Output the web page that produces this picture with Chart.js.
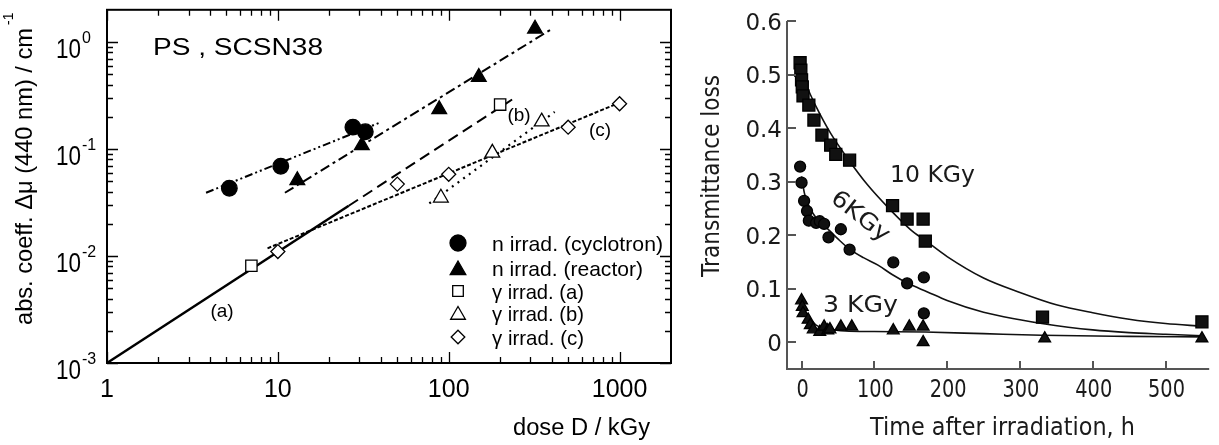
<!DOCTYPE html>
<html>
<head>
<meta charset="utf-8">
<script src="https://cdn.jsdelivr.net/npm/chart.js@4.4.1/dist/chart.umd.min.js"></script>
<style>
  html, body { margin: 0; padding: 0; background: #fff; width: 1219px; height: 445px; overflow: hidden; }
  canvas { position: absolute; top: 0; }
  #left { left: 0; }
  #right { left: 700px; }
</style>
</head>
<body>
<canvas id="left" width="700" height="445"></canvas>
<canvas id="right" width="519" height="445"></canvas>
<script>
// ---- left panel: abs. coefficient vs dose (log-log) ----
const cycDose = [5.2, 10.4, 27.5, 32.5];
const cycMu = [0.043, 0.069, 0.16, 0.145];
const reaDose = [13, 31, 88, 150, 320];
const reaMu = [0.051, 0.108, 0.235, 0.47, 1.33];
const gamADose = [7, 200];
const gamAMu = [0.0081, 0.26];
const gamBDose = [90, 180, 350];
const gamBMu = [0.035, 0.092, 0.18];
const gamCDose = [10, 50, 100, 500, 1000];
const gamCMu = [0.011, 0.047, 0.058, 0.16, 0.265];

// fit lines, end points
const fitCycDose = [3.8, 40];
const fitCycMu = [0.039, 0.178];
const fitReaDose = [11, 400];
const fitReaMu = [0.039, 1.32];
const fitASolidDose = [1, 26];
const fitASolidMu = [0.001, 0.0295];
const fitADashDose = [26, 235];
const fitADashMu = [0.0295, 0.29];
const fitBDose = [77, 417];
const fitBMu = [0.031, 0.222];
const fitCDose = [8.7, 1050];
const fitCMu = [0.0118, 0.28];

const xTickVals = [1, 10, 100, 1000];
const xTickLabels = ['1', '10', '100', '1000'];
const yTickVals = [1, 0.1, 0.01, 0.001];
const yTickExps = ['0', '-1', '-2', '-3'];
const legendLabels = ['n irrad. (cyclotron)', 'n irrad. (reactor)', 'γ irrad. (a)', 'γ irrad. (b)', 'γ irrad. (c)'];

// ---- right panel: transmittance loss vs time ----
const t10 = [-2, -1, 0, 1, 2, 10, 17, 28, 40, 47, 66, 125, 145, 167, 170, 331, 550];
const loss10 = [0.522, 0.508, 0.49, 0.477, 0.46, 0.443, 0.415, 0.387, 0.368, 0.351, 0.34, 0.255, 0.23, 0.23, 0.189, 0.047, 0.038];
const t6 = [-2, 0, 3.5, 7.5, 10, 20, 25, 31, 37, 54, 66, 126, 145, 168, 168];
const loss6 = [0.328, 0.298, 0.264, 0.245, 0.227, 0.223, 0.226, 0.221, 0.196, 0.211, 0.173, 0.149, 0.11, 0.121, 0.054];
const t3 = [0, 1, 2, 9, 12, 16, 25, 31, 36, 39, 54, 69, 126, 148, 167, 167, 334, 550];
const loss3 = [0.078, 0.066, 0.054, 0.042, 0.032, 0.024, 0.019, 0.029, 0.022, 0.024, 0.029, 0.029, 0.022, 0.029, 0.029, 0.0, 0.007, 0.007];

// curves
const c10t = [3, 20, 40, 65, 90, 120, 150, 170, 200, 250, 300, 350, 400, 450, 500, 550];
const c10v = [0.49, 0.44, 0.39, 0.34, 0.295, 0.25, 0.21, 0.19, 0.16, 0.12, 0.093, 0.07, 0.055, 0.043, 0.035, 0.03];
const c6t = [0, 4, 10, 16, 25, 38, 50, 65, 85, 105, 125, 146, 173, 200, 250, 300, 330, 400, 450, 500, 550];
const c6v = [0.31, 0.278, 0.255, 0.24, 0.224, 0.209, 0.193, 0.175, 0.158, 0.144, 0.126, 0.11, 0.094, 0.078, 0.056, 0.042, 0.035, 0.023, 0.018, 0.015, 0.012];
const c3t = [0, 5, 10, 15, 20, 30, 45, 60, 100, 170, 250, 330, 450, 550];
const c3v = [0.075, 0.058, 0.046, 0.038, 0.032, 0.026, 0.023, 0.021, 0.02, 0.019, 0.016, 0.013, 0.011, 0.01];

const timeTicks = [0, 100, 200, 300, 400, 500];
const lossTicks = [0, 0.1, 0.2, 0.3, 0.4, 0.5, 0.6];
const lossTickLabels = ['0', '0.1', '0.2', '0.3', '0.4', '0.5', '0.6'];

const pts = (xs, ys) => xs.map((v, i) => ({ x: v, y: ys[i] }));

function mark(xs, ys, style, r, fill) {
  return {
    data: pts(xs, ys), showLine: false, clip: false,
    pointStyle: style, pointRadius: r, pointHoverRadius: r,
    pointBackgroundColor: fill, pointBorderColor: '#000', pointBorderWidth: 1.3,
  };
}

function fit(xs, ys, dash, w) {
  return {
    data: pts(xs, ys), showLine: true, pointRadius: 0, clip: false,
    borderColor: '#000', borderWidth: w || 2, borderDash: dash, fill: false,
  };
}

function curve(xs, ys) {
  return {
    data: pts(xs, ys), showLine: true, pointRadius: 0, clip: false,
    borderColor: '#111', borderWidth: 1.6, cubicInterpolationMode: 'monotone', fill: false,
  };
}

// text helper: optional horizontal fit to a measured width
function text(ctx, s, x, y, o) {
  ctx.save();
  ctx.font = o.font;
  ctx.fillStyle = o.color || '#000';
  ctx.textAlign = o.align || 'left';
  ctx.textBaseline = o.base || 'alphabetic';
  ctx.translate(x, y);
  if (o.rot) ctx.rotate(o.rot);
  if (o.w) ctx.scale(o.w / ctx.measureText(s).width, 1);
  ctx.fillText(s, 0, 0);
  ctx.restore();
}

function marker(ctx, style, x, y, r, fill) {
  ctx.beginPath();
  if (style === 'circle') {
    ctx.arc(x, y, r, 0, Math.PI * 2);
  } else if (style === 'triangle') {
    for (let k = 0; k < 3; k++) {
      const a = k * 2 * Math.PI / 3;
      ctx.lineTo(x + Math.sin(a) * r, y - Math.cos(a) * r);
    }
    ctx.closePath();
  } else if (style === 'rect') {
    const s = Math.SQRT1_2 * r;
    ctx.rect(x - s, y - s, 2 * s, 2 * s);
  } else {
    ctx.moveTo(x, y - r); ctx.lineTo(x + r, y); ctx.lineTo(x, y + r); ctx.lineTo(x - r, y); ctx.closePath();
  }
  ctx.fillStyle = fill;
  ctx.fill();
  ctx.lineWidth = 1.3;
  ctx.strokeStyle = '#000';
  ctx.stroke();
}

const LS = 'Liberation Sans, Arial, sans-serif';
const DV = 'DejaVu Sans, Verdana, sans-serif';

const leftDecor = {
  id: 'leftDecor',
  afterDraw(chart) {
    const { ctx, chartArea: a, scales: { x, y } } = chart;
    ctx.save();
    ctx.strokeStyle = '#000';
    ctx.lineWidth = 1.3;
    ctx.beginPath();
    for (const d of [1, 10, 100, 1000]) {
      for (let m = 1; m < 10; m++) {
        const v = d * m;
        if (v >= 2000) continue;
        const px = Math.round(x.getPixelForValue(v)) + 0.5;
        const len = m === 1 ? 11 : 6;
        ctx.moveTo(px, a.bottom); ctx.lineTo(px, a.bottom - len);
        ctx.moveTo(px, a.top); ctx.lineTo(px, a.top + len);
      }
    }
    for (const d of [0.001, 0.01, 0.1, 1]) {
      for (let m = 1; m < 10; m++) {
        const v = d * m;
        if (v >= 2) continue;
        const py = Math.round(y.getPixelForValue(v)) + 0.5;
        const len = m === 1 ? 11 : 6;
        ctx.moveTo(a.left, py); ctx.lineTo(a.left + len, py);
        ctx.moveTo(a.right, py); ctx.lineTo(a.right - len, py);
      }
    }
    ctx.stroke();
    ctx.lineWidth = 2;
    ctx.strokeRect(a.left, a.top, a.right - a.left, a.bottom - a.top);

    // tick labels
    xTickVals.forEach((v, i) => {
      text(ctx, xTickLabels[i], x.getPixelForValue(v), a.bottom + 34, { font: '25px ' + LS, align: 'center' });
    });
    yTickVals.forEach((v, i) => {
      const py = y.getPixelForValue(v);
      text(ctx, '10', 81, py + 16, { font: '27px ' + LS, align: 'right', w: 25 });
      text(ctx, yTickExps[i], 82, py + 1, { font: '16px ' + LS });
    });

    // axis titles
    text(ctx, 'dose D / kGy', 513, 435, { font: '23px ' + LS, w: 137 });
    ctx.save();
    ctx.translate(32, 170);
    ctx.rotate(-Math.PI / 2);
    text(ctx, 'abs. coeff. Δμ (440 nm) / cm', -155, 0, { font: '24px ' + LS, w: 297 });
    text(ctx, '-1', 145, -19, { font: '14px ' + LS });
    ctx.restore();

    // annotations
    text(ctx, 'PS , SCSN38', 153, 55, { font: '24px ' + LS, w: 170 });
    text(ctx, '(a)', 222, 312, { font: '19px ' + LS, align: 'center', base: 'middle' });
    text(ctx, '(b)', 519, 116, { font: '19px ' + LS, align: 'center', base: 'middle' });
    text(ctx, '(c)', 600, 131, { font: '19px ' + LS, align: 'center', base: 'middle' });

    // legend
    const rows = [243, 268, 291, 313, 337];
    const styles = [['circle', 8, '#000'], ['triangle', 9, '#000'], ['rect', 7.5, '#fff'], ['triangle', 8.5, '#fff'], ['diamond', 6.8, '#fff']];
    const widths = [171, 151, 92, 92, 92];
    legendLabels.forEach((s, i) => {
      const st = styles[i];
      marker(ctx, st[0], 458, rows[i] + (st[0] === 'triangle' ? 2 : 0), st[1], st[2]);
      text(ctx, s, 492, rows[i] + 8, { font: '21px ' + LS, w: widths[i] });
    });
    ctx.restore();
  }
};

new Chart(document.getElementById('left'), {
  type: 'scatter',
  data: {
    datasets: [
      mark(cycDose, cycMu, 'circle', 7.8, '#000'),
      mark(reaDose, reaMu, 'triangle', 8.5, '#000'),
      mark(gamADose, gamAMu, 'rect', 8, '#fff'),
      mark(gamBDose, gamBMu, 'triangle', 8.5, '#fff'),
      mark(gamCDose, gamCMu, 'rectRot', 7, '#fff'),
      fit(fitCycDose, fitCycMu, [8, 3, 2, 3, 2, 3]),
      fit(fitReaDose, fitReaMu, [10, 4, 3, 4]),
      fit(fitASolidDose, fitASolidMu, [], 2.5),
      fit(fitADashDose, fitADashMu, [11, 6]),
      fit(fitBDose, fitBMu, [2, 5], 2.2),
      fit(fitCDose, fitCMu, [4, 2]),
    ],
  },
  options: {
    responsive: false,
    animation: false,
    devicePixelRatio: 1,
    layout: { padding: { left: 107, top: 9, right: 29, bottom: 82 } },
    plugins: { legend: { display: false }, tooltip: { enabled: false } },
    scales: {
      x: { type: 'logarithmic', min: 1, max: 2000, display: false },
      y: { type: 'logarithmic', min: 0.001, max: 2, display: false },
    },
  },
  plugins: [leftDecor],
});

const rightDecor = {
  id: 'rightDecor',
  afterDraw(chart) {
    const { ctx, chartArea: a, scales: { x, y } } = chart;
    ctx.save();
    ctx.strokeStyle = '#555';
    ctx.lineWidth = 2;
    const top = y.getPixelForValue(0.6);
    ctx.beginPath();
    ctx.moveTo(a.left, top); ctx.lineTo(a.left, a.bottom); ctx.lineTo(a.right, a.bottom);
    timeTicks.forEach(v => {
      const px = Math.round(x.getPixelForValue(v));
      ctx.moveTo(px, a.bottom); ctx.lineTo(px, a.bottom - 8);
    });
    lossTicks.forEach(v => {
      const py = Math.round(y.getPixelForValue(v));
      ctx.moveTo(a.left, py); ctx.lineTo(a.left + 9, py);
    });
    ctx.stroke();

    const col = '#1a1a1a';
    timeTicks.forEach(v => {
      const s = String(v);
      text(ctx, s, x.getPixelForValue(v) + 1, 397, { font: '24px ' + DV, align: 'center', w: s.length * 12.3, color: col });
    });
    lossTicks.forEach((v, i) => {
      text(ctx, lossTickLabels[i], a.left - 5, y.getPixelForValue(v) + 8.5, { font: '23px ' + DV, align: 'right', color: col });
    });

    text(ctx, 'Time after irradiation, h', 170, 435, { font: '25px ' + DV, w: 265, color: col });
    text(ctx, 'Transmittance loss', 19, 176, { font: '24px ' + DV, align: 'center', rot: -Math.PI / 2, w: 202, color: col });

    text(ctx, '10 KGy', 190, 182, { font: '23px ' + DV, w: 85, color: col });
    text(ctx, '3 KGy', 123, 312, { font: '23px ' + DV, w: 75, color: col });
    text(ctx, '6KGy', 160, 217, { font: '23px ' + DV, align: 'center', base: 'middle', rot: 0.66, w: 68, color: col });
    ctx.restore();
  }
};

new Chart(document.getElementById('right'), {
  type: 'scatter',
  data: {
    datasets: [
      mark(t10, loss10, 'rect', 8.5, '#111'),
      mark(t6, loss6, 'circle', 5.5, '#111'),
      mark(t3, loss3, 'triangle', 6.8, '#111'),
      curve(c10t, c10v),
      curve(c6t, c6v),
      curve(c3t, c3v),
    ],
  },
  options: {
    responsive: false,
    animation: false,
    devicePixelRatio: 1,
    layout: { padding: { left: 87, top: 21, right: 2, bottom: 76 } },
    plugins: { legend: { display: false }, tooltip: { enabled: false } },
    scales: {
      x: { type: 'linear', min: -20, max: 560, display: false },
      y: { type: 'linear', min: -0.05, max: 0.6, display: false },
    },
  },
  plugins: [rightDecor],
});
</script>
</body>
</html>
